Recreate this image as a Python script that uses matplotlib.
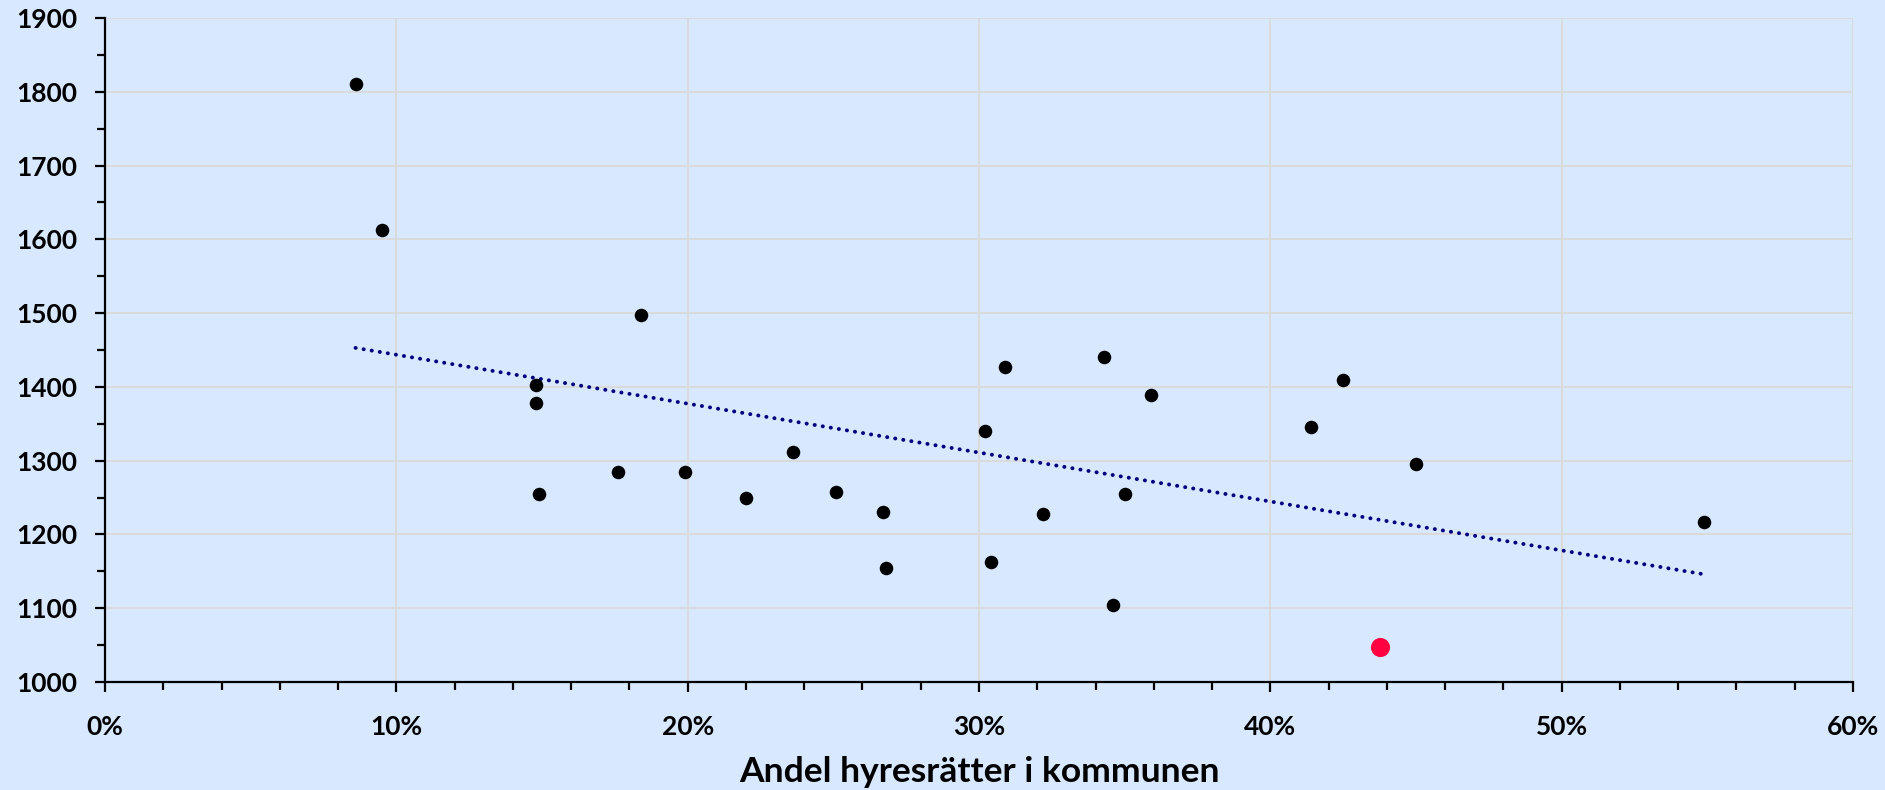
import numpy as np
import matplotlib
matplotlib.use("Agg")
import matplotlib.pyplot as plt
from matplotlib.ticker import MultipleLocator, PercentFormatter

plt.rcParams['font.family'] = ['Lato', 'DejaVu Sans']
plt.rcParams['font.weight'] = 'bold'

# --------------------------------------------
# Data
# --------------------------------------------

# share of rental apartments in the municipality
share = [0.086, 0.095, 0.148, 0.148, 0.149, 0.184, 0.176, 0.199, 0.220,
         0.236, 0.251, 0.267, 0.268, 0.302, 0.304, 0.309, 0.322, 0.343,
         0.346, 0.350, 0.359, 0.414, 0.425, 0.450, 0.549]
value = [1811, 1613, 1402, 1378, 1255, 1497, 1285, 1285, 1250,
         1312, 1258, 1231, 1155, 1340, 1163, 1427, 1228, 1440,
         1104, 1255, 1389, 1345, 1410, 1296, 1217]

# highlighted municipality
hl_share = [0.4375]
hl_value = [1047]

bg = '#D8E8FE'

fig = plt.figure(figsize=(18.85, 7.9), dpi=100, facecolor=bg)
ax = fig.add_axes([0.0557, 0.1367, 0.9273, 0.8405])
ax.set_facecolor(bg)

# linear trend over all points
all_x = np.array(share + hl_share)
all_y = np.array(value + hl_value)
k, m = np.polyfit(all_x, all_y, 1)
tx = np.array([all_x.min(), all_x.max()])
ax.plot(tx, k * tx + m, color='#000080', lw=2.8,
        linestyle=(0, (0.05, 2.05)), dash_capstyle='round', zorder=2)

ax.scatter(share, value, s=95, color='black', zorder=3, linewidths=0)
ax.scatter(hl_share, hl_value, s=190, color='#FF0040', zorder=3, linewidths=0)

ax.set_xlim(0, 0.6)
ax.set_ylim(1000, 1900)
ax.xaxis.set_major_locator(MultipleLocator(0.1))
ax.xaxis.set_minor_locator(MultipleLocator(0.02))
ax.yaxis.set_major_locator(MultipleLocator(100))
ax.yaxis.set_minor_locator(MultipleLocator(50))
ax.xaxis.set_major_formatter(PercentFormatter(xmax=1, decimals=0))

ax.grid(True, which='major', color='#D9D9D9', lw=1.3, zorder=0)
ax.set_axisbelow(True)

for s in ['top', 'right']:
    ax.spines[s].set_visible(False)
for s in ['left', 'bottom']:
    ax.spines[s].set_linewidth(1.6)
    ax.spines[s].set_color('black')

ax.tick_params(axis='both', which='major', direction='out', length=7,
               width=1.6, labelsize=19, colors='black')
ax.tick_params(axis='both', which='minor', direction='out', length=5.5,
               width=1.6)
ax.tick_params(axis='y', which='major', pad=13)
ax.tick_params(axis='x', which='major', pad=17)

ax.set_xlabel('Andel hyresrätter i kommunen', fontsize=25.5,
              fontweight='bold', labelpad=12)

fig.savefig('out.png', dpi=100, facecolor=bg)
